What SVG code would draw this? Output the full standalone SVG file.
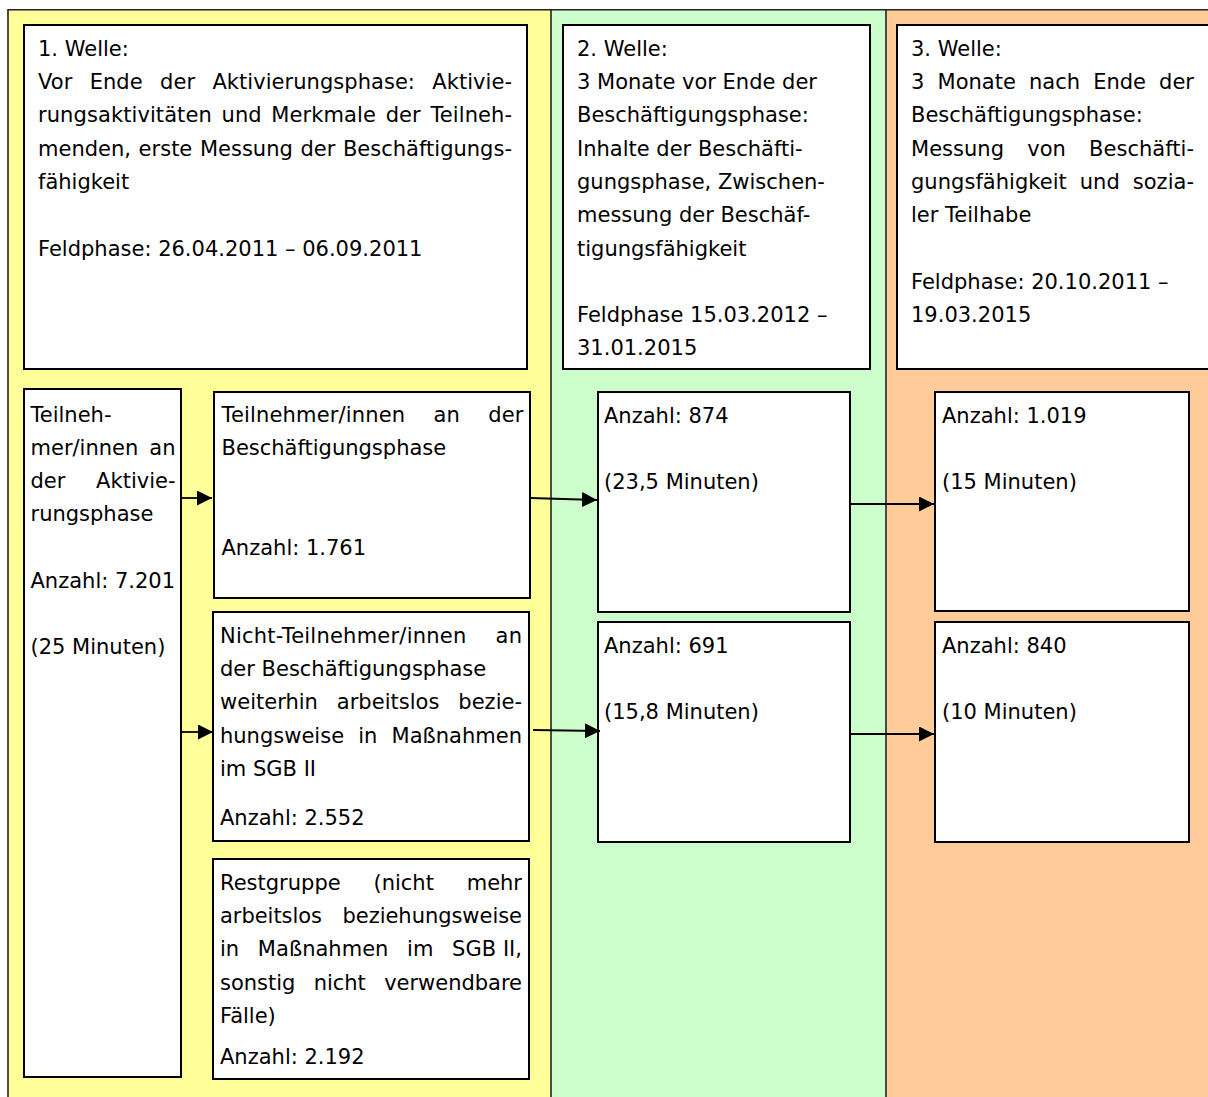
<svg xmlns="http://www.w3.org/2000/svg" width="1208" height="1097" viewBox="0 0 1208 1097">
<defs>
<marker id="ah" markerUnits="userSpaceOnUse" markerWidth="16" markerHeight="15" refX="15" refY="7.5" orient="auto">
<path d="M0,0 L15,7.5 L0,15 z" fill="#000"/>
</marker>
</defs>
<style>
.box{fill:#fff;stroke:#000;stroke-width:2}
.col{stroke:#222;stroke-width:1.6}
.t{font-family:"DejaVu Sans",Verdana,sans-serif;font-size:21px;fill:#000}
.c{fill:none;stroke:#000;stroke-width:1.8;marker-end:url(#ah)}
</style>
<g id="columns">
<rect x="8" y="10" width="543" height="1090" fill="#FFFF99"/>
<rect x="551" y="10" width="335" height="1090" fill="#CCFFCC"/>
<rect x="886" y="10" width="330" height="1090" fill="#FFCC99"/>
<line class="col" x1="8" y1="9.8" x2="1208" y2="9.8"/>
<line class="col" x1="8" y1="9" x2="8" y2="1097"/>
<line class="col" x1="551" y1="9" x2="551" y2="1097"/>
<line class="col" x1="886" y1="9" x2="886" y2="1097"/>
</g>
<g id="welle1">
<rect class="box" x="24" y="25" width="503" height="344"/>
<text class="t" x="38" y="56">1. Welle:</text>
<text class="t" x="38" y="89" word-spacing="10.6" textLength="474" lengthAdjust="spacing">Vor Ende der Aktivierungsphase: Aktivie-</text>
<text class="t" x="38" y="122" word-spacing="2.9" textLength="474" lengthAdjust="spacing">rungsaktivitäten und Merkmale der Teilneh-</text>
<text class="t" x="38" y="156" word-spacing="0.9" textLength="474" lengthAdjust="spacing">menden, erste Messung der Beschäftigungs-</text>
<text class="t" x="38" y="189">fähigkeit</text>
<text class="t" x="38" y="256">Feldphase: 26.04.2011 – 06.09.2011</text>
</g>
<g id="welle2">
<rect class="box" x="563" y="25" width="307" height="344"/>
<text class="t" x="577" y="56">2. Welle:</text>
<text class="t" x="577" y="89">3 Monate vor Ende der</text>
<text class="t" x="577" y="122">Beschäftigungsphase:</text>
<text class="t" x="577" y="156">Inhalte der Beschäfti-</text>
<text class="t" x="577" y="189">gungsphase, Zwischen-</text>
<text class="t" x="577" y="222">messung der Beschäf-</text>
<text class="t" x="577" y="256">tigungsfähigkeit</text>
<text class="t" x="577" y="322">Feldphase 15.03.2012 –</text>
<text class="t" x="577" y="355">31.01.2015</text>
</g>
<g id="welle3">
<rect class="box" x="897" y="25" width="330" height="344"/>
<text class="t" x="911" y="56">3. Welle:</text>
<text class="t" x="911" y="89" word-spacing="6.5" textLength="283" lengthAdjust="spacing">3 Monate nach Ende der</text>
<text class="t" x="911" y="122">Beschäftigungsphase:</text>
<text class="t" x="911" y="156" word-spacing="16.5" textLength="283" lengthAdjust="spacing">Messung von Beschäfti-</text>
<text class="t" x="911" y="189" word-spacing="6.2" textLength="283" lengthAdjust="spacing">gungsfähigkeit und sozia-</text>
<text class="t" x="911" y="222">ler Teilhabe</text>
<text class="t" x="911" y="289">Feldphase: 20.10.2011 –</text>
<text class="t" x="911" y="322">19.03.2015</text>
</g>
<g id="aktivierung">
<rect class="box" x="24" y="389" width="157" height="688"/>
<text class="t" x="30.5" y="422">Teilneh-</text>
<text class="t" x="30.5" y="455" word-spacing="4.4" textLength="145" lengthAdjust="spacing">mer/innen an</text>
<text class="t" x="30.5" y="488" word-spacing="24" textLength="145" lengthAdjust="spacing">der Aktivie-</text>
<text class="t" x="30.5" y="521">rungsphase</text>
<text class="t" x="30.5" y="588">Anzahl: 7.201</text>
<text class="t" x="30.5" y="654">(25 Minuten)</text>
</g>
<g id="teilnehmer">
<rect class="box" x="214" y="392" width="316" height="206"/>
<text class="t" x="221.5" y="422" word-spacing="21.4" textLength="302" lengthAdjust="spacing">Teilnehmer/innen an der</text>
<text class="t" x="221.5" y="455">Beschäftigungsphase</text>
<text class="t" x="221.5" y="555">Anzahl: 1.761</text>
</g>
<g id="nichtteilnehmer">
<rect class="box" x="213" y="612" width="316" height="229"/>
<text class="t" x="220" y="643" word-spacing="22.2" textLength="302" lengthAdjust="spacing">Nicht-Teilnehmer/innen an</text>
<text class="t" x="220" y="676">der Beschäftigungsphase</text>
<text class="t" x="220" y="709" word-spacing="12.2" textLength="302" lengthAdjust="spacing">weiterhin arbeitslos bezie-</text>
<text class="t" x="220" y="743" word-spacing="7.5" textLength="302" lengthAdjust="spacing">hungsweise in Maßnahmen</text>
<text class="t" x="220" y="776">im SGB II</text>
<text class="t" x="220" y="825">Anzahl: 2.552</text>
</g>
<g id="restgruppe">
<rect class="box" x="213" y="859" width="316" height="220"/>
<text class="t" x="220" y="890" word-spacing="26.1" textLength="302" lengthAdjust="spacing">Restgruppe (nicht mehr</text>
<text class="t" x="220" y="923" word-spacing="13.9" textLength="302" lengthAdjust="spacing">arbeitslos beziehungsweise</text>
<text class="t" x="220" y="956" textLength="302" lengthAdjust="spacing"><tspan word-spacing="12">in Maßnahmen im </tspan><tspan word-spacing="0">SGB II,</tspan></text>
<text class="t" x="220" y="990" word-spacing="11.7" textLength="302" lengthAdjust="spacing">sonstig nicht verwendbare</text>
<text class="t" x="220" y="1023">Fälle)</text>
<text class="t" x="220" y="1064">Anzahl: 2.192</text>
</g>
<g id="w2_teilnehmer">
<rect class="box" x="598" y="392" width="252" height="220"/>
<text class="t" x="604" y="423">Anzahl: 874</text>
<text class="t" x="604" y="489">(23,5 Minuten)</text>
</g>
<g id="w2_nicht">
<rect class="box" x="598" y="622" width="252" height="220"/>
<text class="t" x="604" y="653">Anzahl: 691</text>
<text class="t" x="604" y="719">(15,8 Minuten)</text>
</g>
<g id="w3_teilnehmer">
<rect class="box" x="935" y="392" width="254" height="219"/>
<text class="t" x="942" y="423">Anzahl: 1.019</text>
<text class="t" x="942" y="489">(15 Minuten)</text>
</g>
<g id="w3_nicht">
<rect class="box" x="935" y="622" width="254" height="220"/>
<text class="t" x="942" y="653">Anzahl: 840</text>
<text class="t" x="942" y="719">(10 Minuten)</text>
</g>
<g id="connectors">
<line class="c" x1="181" y1="498" x2="212" y2="498"/>
<line class="c" x1="181" y1="732" x2="213" y2="732"/>
<line class="c" x1="530" y1="498" x2="597" y2="500"/>
<line class="c" x1="533" y1="730" x2="600" y2="731"/>
<line class="c" x1="850" y1="504" x2="934" y2="504"/>
<line class="c" x1="850" y1="734" x2="934" y2="734"/>
</g>
</svg>
